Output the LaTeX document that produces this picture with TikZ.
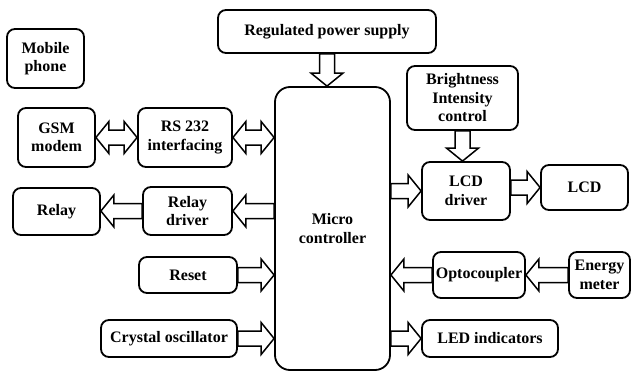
\documentclass[tikz,border=0pt]{standalone}
\usepackage{fontspec}
\setmainfont{LiberationSerif}[Extension=.ttf, UprightFont=*-Regular, BoldFont=*-Bold]
\usetikzlibrary{calc}
\tikzset{
  box/.style={draw, line width=1.8pt, rounded corners=8pt, inner sep=0pt, align=center,
    font=\bfseries\fontsize{16}{18.5}\selectfont},
  barrow/.style={draw, line width=1.5pt, fill=white, line join=miter}
}
\newcommand{\blockarr}[2]{%
 \draw[barrow] let \p1=#1, \p2=#2, \n1={sign(\x2-\x1)}, \n2={sign(\y2-\y1)} in
 ({\x1-(\n2)*7.5pt},{\y1+(\n1)*7.5pt})
 -- ({\x2-(\n1)*13pt-(\n2)*7.5pt},{\y2-(\n2)*13pt+(\n1)*7.5pt})
 -- ({\x2-(\n1)*13pt-(\n2)*16pt},{\y2-(\n2)*13pt+(\n1)*16pt})
 -- (\x2,\y2)
 -- ({\x2-(\n1)*13pt+(\n2)*16pt},{\y2-(\n2)*13pt-(\n1)*16pt})
 -- ({\x2-(\n1)*13pt+(\n2)*7.5pt},{\y2-(\n2)*13pt-(\n1)*7.5pt})
 -- ({\x1+(\n2)*7.5pt},{\y1-(\n1)*7.5pt}) -- cycle;}
\newcommand{\dblockarr}[2]{%
 \draw[barrow] let \p1=#1, \p2=#2, \n1={sign(\x2-\x1)}, \n2={sign(\y2-\y1)} in
 (\x1,\y1)
 -- ({\x1+(\n1)*13pt-(\n2)*16pt},{\y1+(\n2)*13pt+(\n1)*16pt})
 -- ({\x1+(\n1)*13pt-(\n2)*7.5pt},{\y1+(\n2)*13pt+(\n1)*7.5pt})
 -- ({\x2-(\n1)*13pt-(\n2)*7.5pt},{\y2-(\n2)*13pt+(\n1)*7.5pt})
 -- ({\x2-(\n1)*13pt-(\n2)*16pt},{\y2-(\n2)*13pt+(\n1)*16pt})
 -- (\x2,\y2)
 -- ({\x2-(\n1)*13pt+(\n2)*16pt},{\y2-(\n2)*13pt-(\n1)*16pt})
 -- ({\x2-(\n1)*13pt+(\n2)*7.5pt},{\y2-(\n2)*13pt-(\n1)*7.5pt})
 -- ({\x1+(\n1)*13pt+(\n2)*7.5pt},{\y1+(\n2)*13pt-(\n1)*7.5pt})
 -- ({\x1+(\n1)*13pt+(\n2)*16pt},{\y1+(\n2)*13pt-(\n1)*16pt})
 -- cycle;}
\begin{document}
\begin{tikzpicture}[x=1pt,y=-1pt]
\useasboundingbox (0,0) rectangle (632,372);
\node[box, minimum width=77pt, minimum height=59pt] (mobile) at (45.5,58.5) {Mobile\\phone};
\node[box, minimum width=77pt, minimum height=59pt] (gsm) at (56.5,137.5) {GSM\\modem};
\node[box, minimum width=94pt, minimum height=59pt] (rs) at (185,137.5) {RS 232\\interfacing};
\node[box, minimum width=218pt, minimum height=43pt] (power) at (327,31.5) {Regulated power supply};
\node[box, rounded corners=15pt, minimum width=115pt, minimum height=283pt] (micro) at (332.5,228.5) {Micro\\controller};
\node[box, minimum width=111pt, minimum height=64pt] (bright) at (462.5,98) {Brightness\\Intensity\\control};
\node[box, minimum width=88pt, minimum height=58pt] (lcdd) at (466,191) {LCD\\driver};
\node[box, minimum width=87pt, minimum height=45pt] (lcd) at (584.5,187.5) {LCD};
\node[box, minimum width=89pt, minimum height=48pt] (reld) at (187.5,211) {Relay\\driver};
\node[box, minimum width=87pt, minimum height=47pt] (relay) at (56.5,211.5) {Relay};
\node[box, minimum width=98pt, minimum height=36pt] (reset) at (188,275) {Reset};
\node[box, minimum width=136pt, minimum height=37pt] (crystal) at (169,338.5) {Crystal oscillator};
\node[box, minimum width=92pt, minimum height=46pt] (opto) at (479,275) {Optocoupler};
\node[box, minimum width=61pt, minimum height=46pt] (energy) at (599.5,275) {Energy\\meter};
\node[box, minimum width=136pt, minimum height=37pt] (led) at (490,338.5) {LED indicators};

\dblockarr{(gsm.east)}{(rs.west)}
\dblockarr{(rs.east)}{(micro.west |- rs.east)}
\blockarr{(power.south)}{(power.south |- micro.north)}
\blockarr{(bright.south)}{(bright.south |- lcdd.north)}
\blockarr{(micro.east |- lcdd.west)}{(lcdd.west)}
\blockarr{(lcdd.east |- lcd.west)}{(lcd.west)}
\blockarr{(micro.west |- reld.east)}{(reld.east)}
\blockarr{(reld.west)}{(relay.east |- reld.west)}
\blockarr{(reset.east)}{(micro.west |- reset.east)}
\blockarr{(crystal.east)}{(micro.west |- crystal.east)}
\blockarr{(opto.west)}{(micro.east |- opto.west)}
\blockarr{(energy.west)}{(opto.east |- energy.west)}
\blockarr{(micro.east |- led.west)}{(led.west)}
\end{tikzpicture}
\end{document}
